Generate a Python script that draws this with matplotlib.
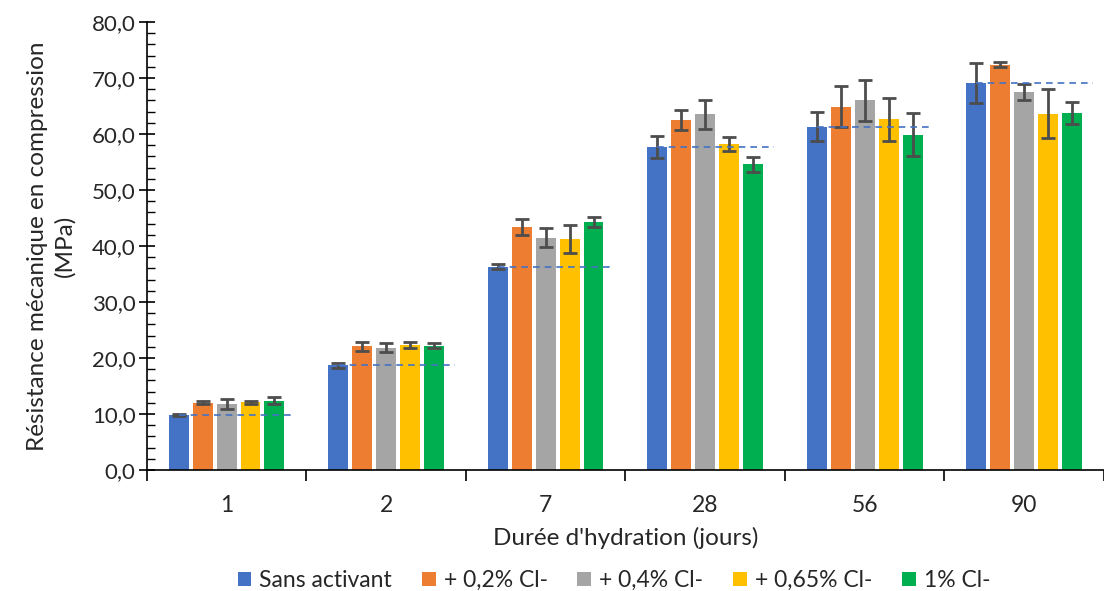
import matplotlib
matplotlib.use("Agg")
import matplotlib.pyplot as plt
import numpy as np
from matplotlib.ticker import MultipleLocator, FuncFormatter

plt.rcParams['font.family'] = ['Lato', 'DejaVu Sans']

categories = ["1", "2", "7", "28", "56", "90"]
series_names = ["Sans activant", "+ 0,2% Cl-", "+ 0,4% Cl-", "+ 0,65% Cl-", "1% Cl-"]
sans_activant = [9.8, 18.7, 36.3, 57.7, 61.3, 69.1]
cl_02 = [12.0, 22.1, 43.4, 62.5, 64.9, 72.4]
cl_04 = [11.8, 21.8, 41.5, 63.5, 66.0, 67.5]
cl_065 = [12.1, 22.3, 41.3, 58.2, 62.6, 63.6]
cl_1 = [12.4, 22.2, 44.3, 54.6, 59.9, 63.8]
err_sans = [0.2, 0.4, 0.4, 1.9, 2.6, 3.5]
err_02 = [0.3, 0.8, 1.4, 1.8, 3.7, 0.5]
err_04 = [0.9, 0.8, 1.7, 2.6, 3.6, 1.5]
err_065 = [0.3, 0.5, 2.5, 1.2, 3.8, 4.4]
err_1 = [0.6, 0.4, 0.9, 1.3, 3.9, 2.0]

values = [sans_activant, cl_02, cl_04, cl_065, cl_1]
errors = [err_sans, err_02, err_04, err_065, err_1]
colors = ["#4472C4", "#ED7D31", "#A5A5A5", "#FFC000", "#00B050"]

fig = plt.figure(figsize=(11.04, 5.91), dpi=100)
ax = fig.add_axes([0.133, 0.2047, 0.867, 0.7581])

x = np.arange(len(categories))
step = 0.15
width = 0.125
for i, (vals, errs, c, name) in enumerate(zip(values, errors, colors, series_names)):
    pos = x + (i - 2) * step
    ax.bar(pos, vals, width=width, color=c, label=name, zorder=2)
    ax.errorbar(pos, vals, yerr=errs, fmt='none', ecolor='#4d4d4d',
                elinewidth=2, capsize=5, capthick=2, zorder=3)

for xi, v in zip(x, sans_activant):
    ax.plot([xi - 2 * step, xi + 0.43], [v, v], ls=(0, (4, 3)), color="#4472C4",
            lw=1.2, zorder=4)

ax.set_xlim(-0.5, len(categories) - 0.5)
ax.set_ylim(0, 80)
ax.yaxis.set_major_locator(MultipleLocator(10))
ax.yaxis.set_minor_locator(MultipleLocator(2))
ax.yaxis.set_major_formatter(FuncFormatter(lambda v, p: f"{v:.1f}".replace('.', ',')))
ax.tick_params(axis='y', which='major', direction='inout', length=12, width=1.2,
               labelsize=16, colors='black', pad=2)
ax.tick_params(axis='y', which='minor', direction='in', length=6, width=1)
ax.tick_params(axis='y', labelcolor='#262626')

ax.set_xticks(x)
ax.set_xticklabels(categories)
ax.set_xticks(np.arange(-0.5, len(categories), 1.0), minor=True)
ax.tick_params(axis='x', which='major', length=0, labelsize=16.5, pad=18, labelcolor='#262626')
ax.tick_params(axis='x', which='minor', direction='out', length=8, width=1.2)

for s in ['top', 'right']:
    ax.spines[s].set_visible(False)
for s in ['left', 'bottom']:
    ax.spines[s].set_linewidth(1.2)
    ax.spines[s].set_color('black')

ax.set_ylabel("Résistance mécanique en compression\n(MPa)", fontsize=17.5,
              color='#262626', labelpad=12, linespacing=1.3)
ax.set_xlabel("Durée d'hydration (jours)", fontsize=17.5, color='#262626', labelpad=8)

leg = fig.legend(loc='lower center', bbox_to_anchor=(0.556, -0.035), ncol=5, frameon=False,
                 fontsize=16.5, handlelength=0.6, handleheight=0.6, handletextpad=0.35,
                 columnspacing=1.3)
for t in leg.get_texts():
    t.set_color('#262626')

fig.savefig("out.png", dpi=100)
